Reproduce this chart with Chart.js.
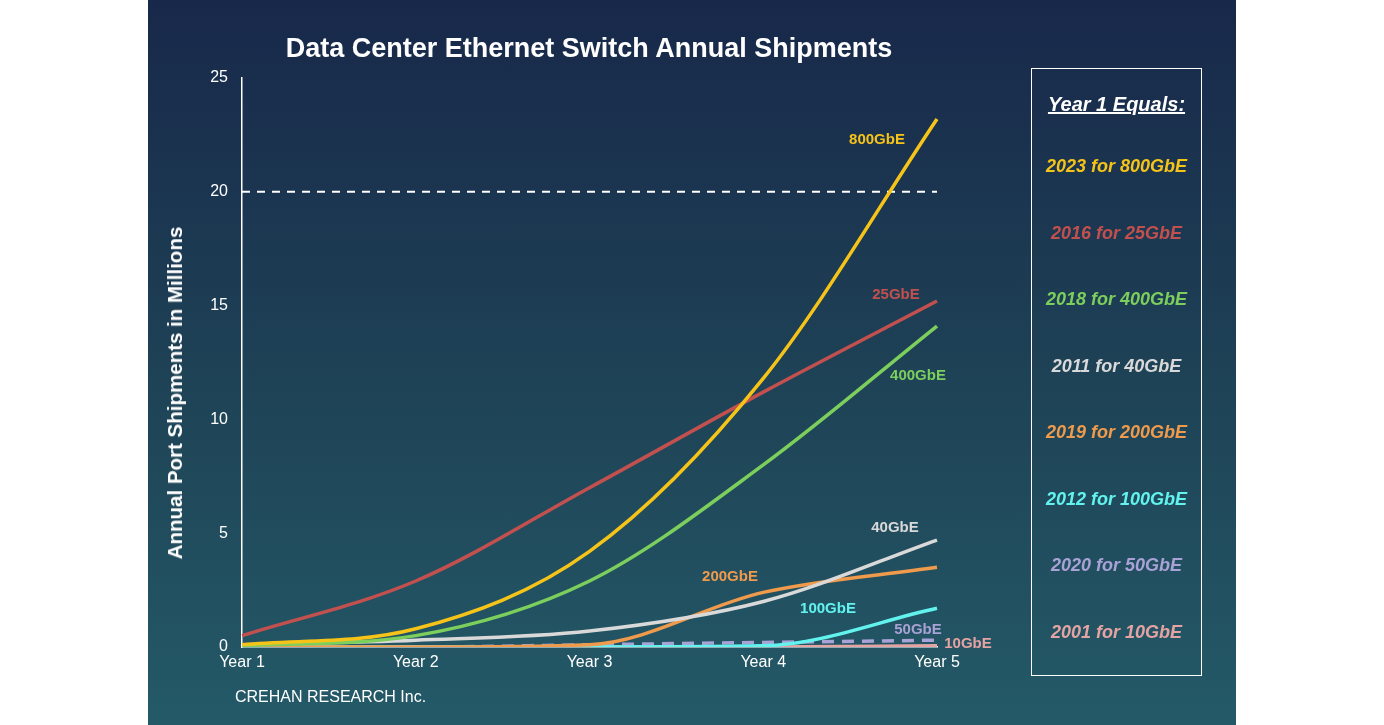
<!DOCTYPE html>
<html><head><meta charset="utf-8">
<script src="https://cdn.jsdelivr.net/npm/chart.js@4"></script>
<style>
body{margin:0;background:#fff;font-family:Arial,"Liberation Sans",sans-serif;}
#panel{position:absolute;left:148px;top:0;width:1088px;height:725px;background:linear-gradient(#18284a,#1f4658 60%,#245a68);}
#title{position:absolute;left:0;width:882px;top:33px;text-align:center;color:#fff;font-weight:bold;font-size:27px;}
#box{position:absolute;left:883px;top:68px;width:169px;height:606px;border:1.5px solid #fff;}
#box div{font-style:italic;font-weight:bold;font-size:18px;text-align:center;position:absolute;left:0;width:100%;}
#credit{position:absolute;left:87px;top:688px;color:#fff;font-size:16px;}
#ylab{position:absolute;left:27px;top:393px;color:#fff;font-weight:bold;font-size:20.5px;transform:translate(-50%,-50%) rotate(-90deg);white-space:nowrap;}
canvas{position:absolute;left:0;top:0;}
</style></head><body>
<div id="panel">
<canvas id="c" width="1088" height="725"></canvas>
<div id="title">Data Center Ethernet Switch Annual Shipments</div>
<div id="ylab">Annual Port Shipments in Millions</div>
<div id="credit">CREHAN RESEARCH Inc.</div>
<div id="box"></div>
</div>
<script>
var years = ['Year 1','Year 2','Year 3','Year 4','Year 5'];
var s800 = [0.1,0.8,4.2,11.8,23.2];
var s25 = [0.5,2.9,7.0,11.2,15.2];
var s400 = [0.05,0.5,2.9,8.0,14.1];
var s40 = [0.1,0.3,0.7,2.0,4.7];
var s200 = [0,0,0.1,2.4,3.5];
var s100 = [0,0,0,0.05,1.7];
var s50 = [0,0,0.1,0.2,0.3];
var s10 = [0,0,0,0,0.05];
var ref20 = [20,20,20,20,20];
var legendRows = ['2023 for 800GbE','2016 for 25GbE','2018 for 400GbE','2011 for 40GbE','2019 for 200GbE','2012 for 100GbE','2020 for 50GbE','2001 for 10GbE'];

var series = [
  {label:'800GbE',data:s800,color:'#f6c418',dx:-60,dy:21},
  {label:'25GbE',data:s25,color:'#c2504e',dx:-41,dy:-6},
  {label:'400GbE',data:s400,color:'#7ccf5c',dx:-19,dy:50},
  {label:'40GbE',data:s40,color:'#d9d9d9',dx:-42,dy:-12},
  {label:'200GbE',data:s200,color:'#f09a4c',dx:-207,dy:10},
  {label:'100GbE',data:s100,color:'#62f3ee',dx:-109,dy:1},
  {label:'50GbE',data:s50,color:'#a8a2d6',dx:-19,dy:-10},
  {label:'10GbE',data:s10,color:'#e5a3a3',dx:31,dy:-2}
];
var box = document.getElementById('box');
var hd = document.createElement('div');
hd.textContent='Year 1 Equals:';hd.style.color='#fff';hd.style.top='24px';hd.style.fontSize='20px';hd.style.textDecoration='underline';
box.appendChild(hd);
legendRows.forEach(function(t,i){
  var d=document.createElement('div');d.textContent=t;d.style.color=series[i].color;d.style.top=(87+i*66.5)+'px';box.appendChild(d);
});

var datasets = series.map(function(s){
  return {label:s.label,data:s.data,borderColor:s.color,borderWidth:3.5,pointRadius:0,fill:false,
    cubicInterpolationMode:'monotone',borderDash:s.label==='50GbE'?[12,8]:[]};
});
datasets.push({label:'ref',data:ref20,borderColor:'#fff',borderWidth:2,borderDash:[8,7],pointRadius:0});

var endLabels = {id:'endLabels',afterDatasetsDraw:function(ch){
  var c=ch.ctx;c.save();c.font='bold 15px Arial';c.textAlign='center';c.textBaseline='middle';
  series.forEach(function(s,i){
    var p=ch.getDatasetMeta(i).data[4];
    c.fillStyle=s.color;c.fillText(s.label,p.x+s.dx,p.y+s.dy);
  });
  c.restore();
}};

new Chart(document.getElementById('c'),{type:'line',
  data:{labels:years,datasets:datasets},
  plugins:[endLabels],
  options:{responsive:false,animation:false,
    layout:{padding:{left:0,right:299,top:78,bottom:48}},
    plugins:{legend:{display:false},tooltip:{enabled:false}},
    scales:{
      x:{offset:false,grid:{display:false,drawTicks:false},border:{color:'#fff',width:1.5},
        ticks:{color:'#fff',font:{size:16},padding:6},afterFit:function(a){a.height=30;}},
      y:{min:0,max:25,grid:{display:false,drawTicks:false},border:{color:'#fff',width:1.5},
        ticks:{stepSize:5,color:'#fff',font:{size:16},padding:14},afterFit:function(a){a.width=94;}}
    }}
});
</script>
</body></html>
